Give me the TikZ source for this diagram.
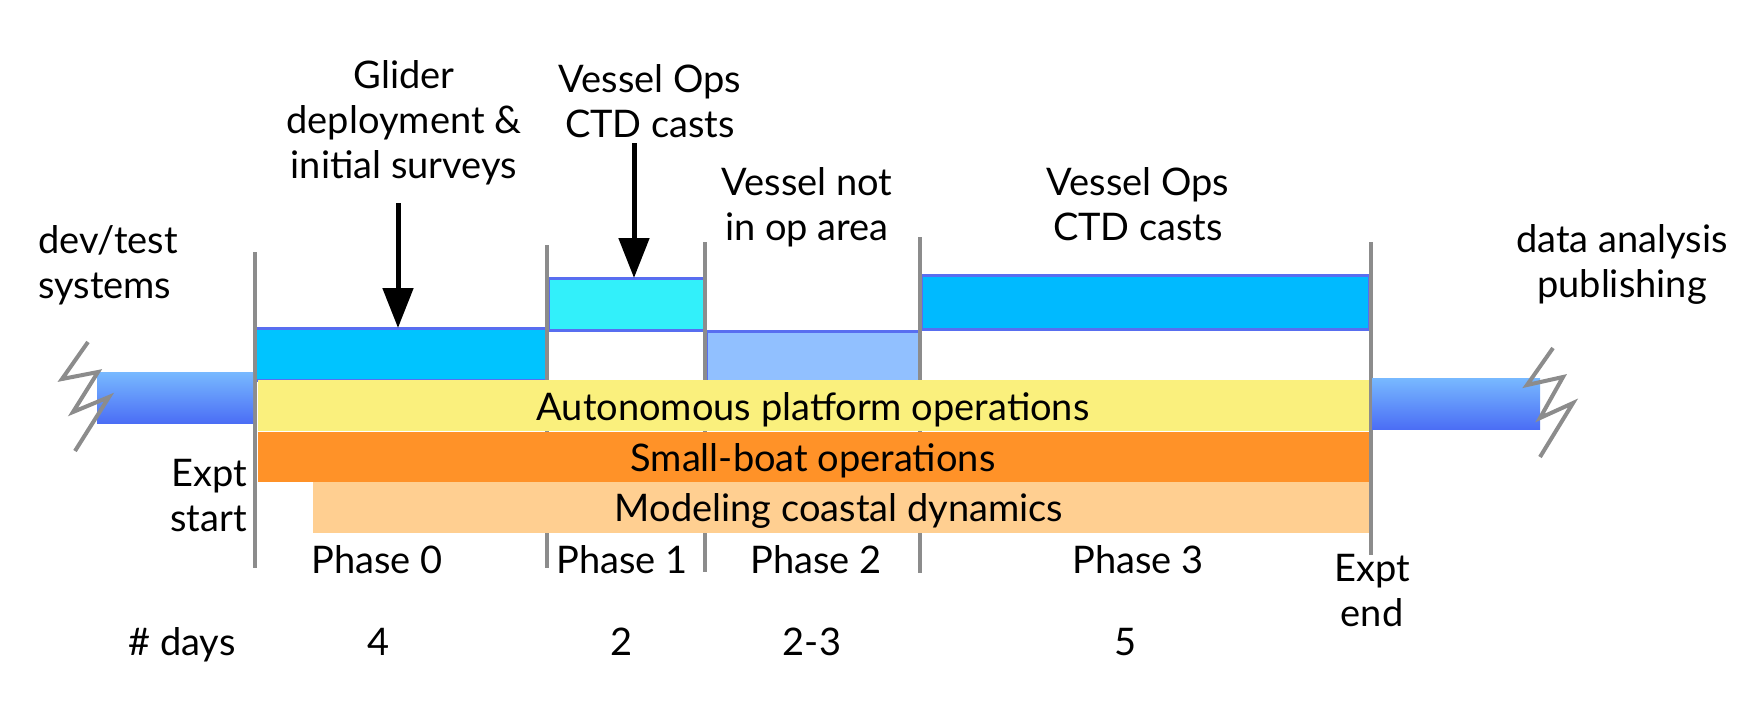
\documentclass[tikz,border=0pt]{standalone}
\usepackage{fontspec}
\setmainfont{Lato}
\usetikzlibrary{arrows.meta}
\definecolor{barline}{RGB}{88,110,240}
\definecolor{gliderfill}{RGB}{0,196,255}
\definecolor{cyanfill}{RGB}{50,240,250}
\definecolor{lightfill}{RGB}{145,192,255}
\definecolor{vesselfill}{RGB}{0,186,255}
\definecolor{yellowfill}{RGB}{250,240,125}
\definecolor{orangefill}{RGB}{255,146,40}
\definecolor{modelfill}{RGB}{255,207,145}
\definecolor{gline}{RGB}{140,140,140}
\definecolor{gradtop}{RGB}{120,185,255}
\definecolor{gradmid}{RGB}{60,155,255}
\definecolor{gradbot}{RGB}{75,110,245}
\begin{document}
\begin{tikzpicture}[x=1pt,y=-1pt,
  lbl/.style={font=\fontsize{38}{45}\selectfont, inner sep=0pt, align=center, text=black},
  bar/.style={inner sep=0pt, outer sep=0pt, draw=barline, line width=3pt},
  band/.style={inner sep=0pt, outer sep=0pt},
  gradbar/.style={inner sep=0pt, outer sep=0pt, top color=gradtop, middle color=gradmid, bottom color=gradbot},
  vline/.style={draw=gline, line width=3.5pt},
  zig/.style={draw=gline, line width=4pt, line join=miter},
  arr/.style={-{Triangle[width=30pt,length=40pt]}, line width=5pt, black}
]
\useasboundingbox[fill=white] (0,0) rectangle (1759,718);

% upper activity bars
\node[bar, fill=gliderfill, minimum width=292pt, minimum height=52pt] (glider) at (401,354) {};
\node[bar, fill=cyanfill, minimum width=156pt, minimum height=52pt] (ctd1) at (626,304) {};
\node[bar, fill=lightfill, minimum width=213pt, minimum height=51pt] (notarea) at (812.5,356.5) {};
\node[bar, fill=vesselfill, minimum width=448pt, minimum height=54pt] (ctd2) at (1145,302) {};

% phase boundary lines
\draw[vline] (255,252) -- (255,568);
\draw[vline] (547,245) -- (547,568);
\draw[vline] (705,242) -- (705,572);
\draw[vline] (920,237) -- (920,573);
\draw[vline] (1371,242) -- (1371,555);

% operation bands
\node[band, fill=yellowfill, minimum width=1111pt, minimum height=51pt] (auto) at (813.5,405.5) {};
\node[band, fill=orangefill, minimum width=1111pt, minimum height=50pt] (boat) at (813.5,457) {};
\node[band, fill=modelfill, minimum width=1056pt, minimum height=51pt] (model) at (841,507.5) {};

% before / after bars
\node[gradbar, minimum width=156pt, minimum height=51pt] (before) at (175,397.5) {};
\node[gradbar, minimum width=168pt, minimum height=51pt] (after) at (1456,403.5) {};

% break marks
\draw[zig] (88,342) -- (62,379) -- (98,372) -- (73,412) -- (109,397) -- (75,451);
\draw[zig] (1553,348) -- (1527,385) -- (1563,377) -- (1540,418) -- (1573,403) -- (1540,457);

% arrows
\coordinate (a1) at (398,203);
\coordinate (a2) at (634,143);
\draw[arr] (a1) -- (a1 |- glider.north);
\draw[arr] (a2) -- (a2 |- ctd1.north);

% labels (anchor=base is the baseline of the last line)
\node[lbl, anchor=base] (tglider) at (404,178) {Glider\\deployment \&\\initial surveys};
\node[lbl, anchor=base] (tops1) at (650,137) {Vessel Ops\\CTD casts};
\node[lbl, anchor=base] (tnot) at (807,240) {Vessel not\\in op area};
\node[lbl, anchor=base] (tops2) at (1138,240) {Vessel Ops\\CTD casts};
\node[lbl, align=left, anchor=base west] (tdev) at (38,298) {dev/test\\systems};
\node[lbl, anchor=base] (tdata) at (1622,297) {data analysis\\publishing};
\node[lbl, align=right, anchor=base east] (tstart) at (247,531) {Expt\\start};
\node[lbl, anchor=base] (tend) at (1372,626) {Expt\\end};

\node[lbl, anchor=base] (tauto) at (813,420) {Autonomous platform operations};
\node[lbl, anchor=base] (tboat) at (813,471) {Small-boat operations};
\node[lbl, anchor=base] (tmodel) at (839,521) {Modeling coastal dynamics};

\node[lbl, anchor=base] (p0) at (377,573) {Phase 0};
\node[lbl, anchor=base] (p1) at (622,573) {Phase 1};
\node[lbl, anchor=base] (p2) at (816,573) {Phase 2};
\node[lbl, anchor=base] (p3) at (1138,573) {Phase 3};

\node[lbl, anchor=base] (tdays) at (182,655) {\# days};
\node[lbl, anchor=base] (d0) at (379,655) {4};
\node[lbl, anchor=base] (d1) at (622,655) {2};
\node[lbl, anchor=base] (d2) at (812,655) {2-3};
\node[lbl, anchor=base] (d3) at (1126,655) {5};
\end{tikzpicture}
\end{document}
